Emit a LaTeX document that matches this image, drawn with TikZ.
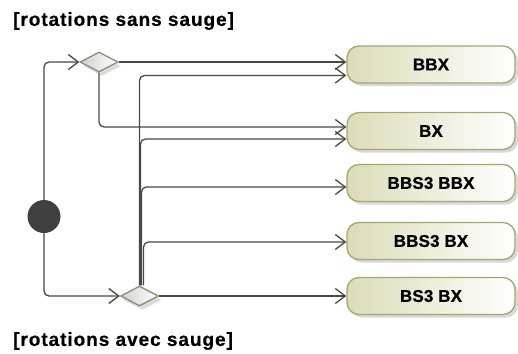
\documentclass[tikz,border=0pt]{standalone}
\usepackage{fontspec}
\setmainfont{Liberation Sans}
\newfontfamily\guardfont{Liberation Sans}[LetterSpace=5, FakeBold=0.6]
\newfontfamily\actionfont{Liberation Sans}[LetterSpace=1, FakeBold=0.8]
\usetikzlibrary{arrows.meta,calc,shapes.geometric,shadows}
\definecolor{flowgrey}{HTML}{484848}
\definecolor{boxolive}{HTML}{A6A66E}
\definecolor{boxfill}{HTML}{DCDCB8}
\definecolor{diamondline}{HTML}{8C8C78}
\definecolor{startdark}{HTML}{404040}

\begin{document}
\begin{tikzpicture}[x=1pt, y=-1pt,
    flow/.style={draw=flowgrey, line width=1.3pt, rounded corners=5pt,
        -{Straight Barb[length=10pt, width=15pt]}},
    action/.style={rounded corners=12pt, draw=boxolive, line width=1.3pt,
        left color=boxfill, right color=white, minimum width=168pt, minimum height=37pt,
        font=\actionfont\bfseries\fontsize{17}{19}\selectfont,
        drop shadow={shadow xshift=3pt, shadow yshift=-3pt, fill=black!30}},
    decision/.style={diamond, draw=diamondline, line width=1.3pt,
        left color=black!18, right color=white, minimum width=38pt, minimum height=20pt,
        inner sep=0pt, drop shadow={shadow xshift=3pt, shadow yshift=-4pt, fill=black!28}},
    guard/.style={anchor=west, inner sep=0pt, font=\guardfont\bfseries\fontsize{19}{22}\selectfont}
]
\useasboundingbox (0,0) rectangle (518,353);

% Guards
\node[guard] (sans) at (13,21) {[rotations sans sauge]};
\node[guard] (avec) at (13,341) {[rotations avec sauge]};

% Start and decisions
\node[circle, fill=startdark, minimum size=33pt, inner sep=0pt] (start) at (44,216.5) {};
\node[decision] (dsans) at (99,62) {};
\node[decision] (davec) at (139.5,296) {};

% Actions
\node[action] (bbx) at (431,64.5) {BBX};
\node[action] (bx) at (431,131) {BX};
\node[action] (bbsbbx) at (431,183) {BBS3 BBX};
\node[action] (bbsbx) at (431,241) {BBS3 BX};
\node[action] (bsbx) at (431,296) {BS3 BX};

% Flows
\draw[flow] (start.north) |- (dsans.west);
\draw[flow] (start.south) |- (davec.west);
\draw[flow] (dsans.east) -- (dsans.east -| bbx.west);
\draw[flow] (dsans.south) |- ($(bx.west)+(0,-4)$);
\draw[flow] (davec.north) |- ($(bbx.west)+(0,11)$);
\draw[flow] ($(davec.north)+(1,0)$) |- ($(bx.west)+(0,8)$);
\draw[flow] ($(davec.north)+(2,0)$) |- ($(bbsbbx.west)+(0,4)$);
\draw[flow] ($(davec.north)+(4,0)$) |- ($(bbsbx.west)+(0,1)$);
\draw[flow] (davec.east) -- (davec.east -| bsbx.west);
\end{tikzpicture}
\end{document}
